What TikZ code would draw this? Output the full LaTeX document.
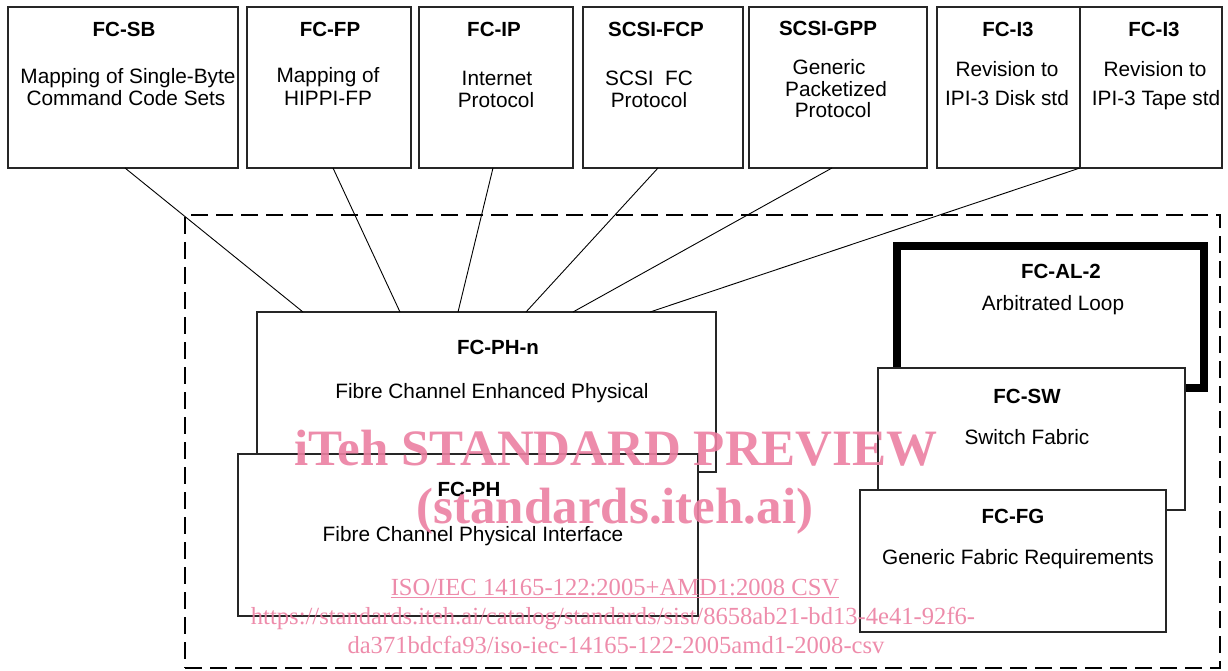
\documentclass[tikz,border=0pt]{standalone}
\usepackage{fontspec}
\setmainfont{Liberation Sans}
\newfontfamily\wmfont{Liberation Serif}
\usetikzlibrary{calc}
\definecolor{wmpink}{RGB}{236,128,162}
\tikzset{
  box/.style={draw=black!85, line width=1.2pt, fill=white, anchor=north west,
    inner sep=0pt, outer sep=0pt},
  heavybox/.style={box, draw=black, line width=8.5pt},
  frame/.style={draw=black, line width=2.2pt, dash pattern=on 17pt off 8pt,
    anchor=north west, inner sep=0pt, outer sep=0pt},
  ttl/.style={anchor=base, inner sep=0pt, font=\fontsize{20.5}{24}\selectfont\bfseries},
  txt/.style={anchor=base, inner sep=0pt, font=\fontsize{20.8}{24}\selectfont},
  link/.style={draw=black, line width=0.9pt},
  wmbig/.style={anchor=base, inner sep=0pt, text=wmpink, text opacity=0.9,
    font=\wmfont\fontsize{51}{56}\selectfont\bfseries},
  wmsmall/.style={anchor=base, inner sep=0pt, text=wmpink, text opacity=0.9,
    font=\wmfont\fontsize{24.6}{28}\selectfont},
}
\begin{document}
\begin{tikzpicture}[x=1pt,y=-1pt]
\useasboundingbox (0,0) rectangle (1228,671);

% dashed outline of the physical layer group
\node[frame, minimum width=1035pt, minimum height=453pt] (grp) at (185,215) {};

% upper layer protocol boxes
\node[box, minimum width=230pt, minimum height=161pt] (sb)   at (8,7) {};
\node[box, minimum width=164pt, minimum height=161pt] (fp)   at (247,7) {};
\node[box, minimum width=154pt, minimum height=161pt] (ip)   at (419,7) {};
\node[box, minimum width=160pt, minimum height=161pt] (fcp)  at (583,7) {};
\node[box, minimum width=178pt, minimum height=161pt] (gpp)  at (749,7) {};
\node[box, minimum width=143pt, minimum height=161pt] (disk) at (937,7) {};
\node[box, minimum width=142pt, minimum height=161pt] (tape) at (1080,7) {};

\node[ttl] (sbT) at (124,37) {FC-SB};
\node[txt] (sbA) at (128,84) {Mapping of Single-Byte};
\node[txt] (sbB) at (126,106) {Command Code Sets};

\node[ttl] (fpT) at (330,37) {FC-FP};
\node[txt] (fpA) at (328,83) {Mapping of};
\node[txt] (fpB) at (328,106) {HIPPI-FP};

\node[ttl] (ipT) at (494,37) {FC-IP};
\node[txt] (ipA) at (497,86) {Internet};
\node[txt] (ipB) at (496,108) {Protocol};

\node[ttl] (fcpT) at (656,37) {SCSI-FCP};
\node[txt] (fcpA) at (649,86) {SCSI\hspace{0.55em}FC};
\node[txt] (fcpB) at (649,108) {Protocol};

\node[ttl] (gppT) at (828,36) {SCSI-GPP};
\node[txt] (gppA) at (829,75) {Generic};
\node[txt] (gppB) at (836,97) {Packetized};
\node[txt] (gppC) at (833,118) {Protocol};

\node[ttl] (diskT) at (1008,37) {FC-I3};
\node[txt] (diskA) at (1007,77) {Revision to};
\node[txt] (diskB) at (1007,106) {IPI-3 Disk std};

\node[ttl] (tapeT) at (1154,37) {FC-I3};
\node[txt] (tapeA) at (1155,77) {Revision to};
\node[txt] (tapeB) at (1156,106) {IPI-3 Tape std};

% enhanced physical layer, placed first so that its connectors end on its top edge
\node[box, minimum width=459pt, minimum height=160pt] (phn) at (257,312) {};

\draw[link] ([xshift=117pt]sb.south west) -- ([xshift=46pt]phn.north west);
\draw[link] ([xshift=86pt]fp.south west)  -- ([xshift=143pt]phn.north west);
\draw[link] ([xshift=74pt]ip.south west)  -- ([xshift=201pt]phn.north west);
\draw[link] ([xshift=75pt]fcp.south west) -- ([xshift=269pt]phn.north west);
\draw[link] ([xshift=83pt]gpp.south west) -- ([xshift=316pt]phn.north west);
\draw[link] (disk.south east) -- ([xshift=393pt]phn.north west);

\node[ttl] (phnT) at (498,354) {FC-PH-n};
\node[txt] (phnA) at (492,398) {Fibre Channel Enhanced Physical};

% base physical interface overlapping it
\node[box, minimum width=460pt, minimum height=162pt] (ph) at (238,454) {};
\node[ttl] (phT) at (469,496) {FC-PH};
\node[txt] (phA) at (473,541) {Fibre Channel Physical Interface};

% loop, switch fabric and generic fabric stack
\node[heavybox, minimum width=307pt, minimum height=142pt] (al) at (897,246) {};
\node[ttl] (alT) at (1061,278) {FC-AL-2};
\node[txt] (alA) at (1053,310) {Arbitrated Loop};

\node[box, minimum width=307pt, minimum height=142pt] (sw) at (878,368) {};
\node[ttl] (swT) at (1027,403) {FC-SW};
\node[txt] (swA) at (1027,444) {Switch Fabric};

\node[box, minimum width=306pt, minimum height=142pt] (fg) at (860,490) {};
\node[ttl] (fgT) at (1013,523) {FC-FG};
\node[txt] (fgA) at (1018,564) {Generic Fabric Requirements};

% preview stamp
\node[wmbig] (wm1) at (616,465) {iTeh STANDARD PREVIEW};
\node[wmbig] (wm2) at (615,523) {(standards.iteh.ai)};
\node[wmsmall] (wm3) at (615,595) {ISO/IEC 14165-122:2005+AMD1:2008 CSV};
\draw[wmpink, draw opacity=0.9, line width=1pt]
  ([yshift=-2.5pt]wm3.base west) -- ([yshift=-2.5pt]wm3.base east);
\node[wmsmall] (wm4) at (613,624) {https://standards.iteh.ai/catalog/standards/sist/8658ab21-bd13-4e41-92f6-};
\node[wmsmall] (wm5) at (616,653) {da371bdcfa93/iso-iec-14165-122-2005amd1-2008-csv};
\end{tikzpicture}
\end{document}
